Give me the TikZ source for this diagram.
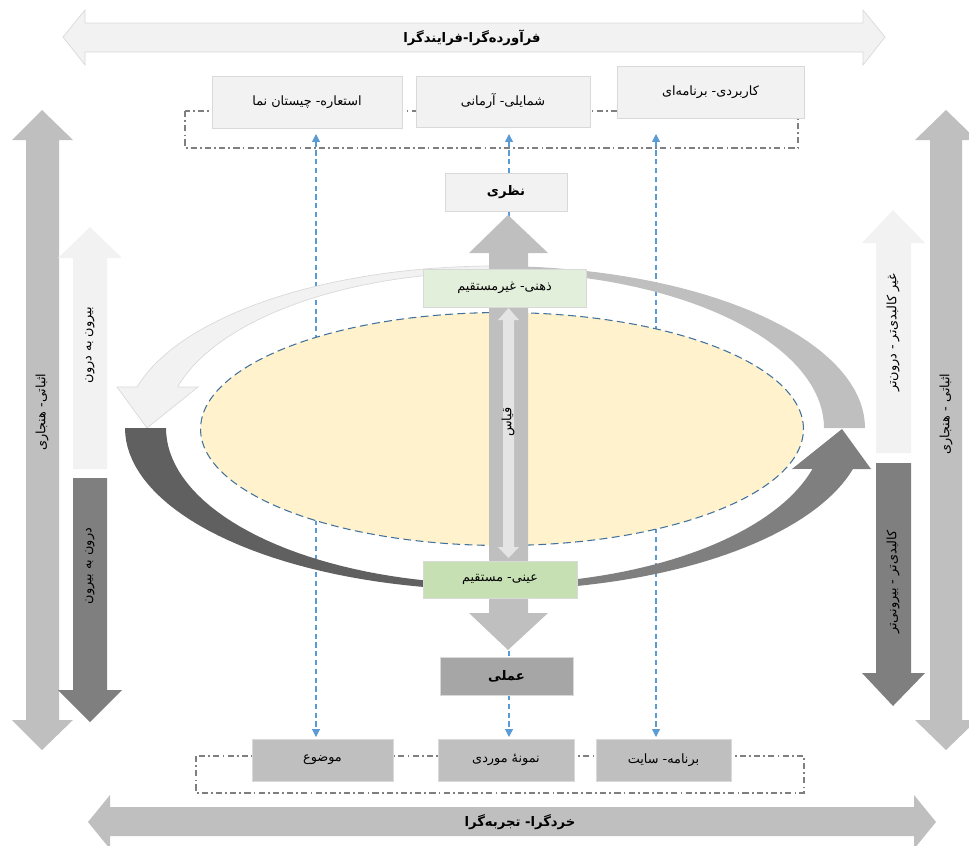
\documentclass[tikz,border=0pt]{standalone}
\usepackage{fontspec}
\newfontfamily\persianfont[Script=Arabic]{DejaVu Sans}
\TeXXeTstate=1
\newcommand{\rtltext}[1]{\beginR #1\endR}
\usetikzlibrary{shapes.geometric, arrows.meta}

\definecolor{paleg}{HTML}{F2F2F2}
\definecolor{edgeg}{HTML}{D9D9D9}
\definecolor{midg}{HTML}{BFBFBF}
\definecolor{darkg}{HTML}{A6A6A6}
\definecolor{deepg}{HTML}{7F7F7F}
\definecolor{coalg}{HTML}{606060}
\definecolor{palegreen}{HTML}{E2EFDA}
\definecolor{leafgreen}{HTML}{C6E0B4}
\definecolor{cream}{HTML}{FFF2CC}
\definecolor{steel}{HTML}{41719C}
\definecolor{sky}{HTML}{5B9BD5}

\tikzset{
  fa/.style={font=\persianfont\fontsize{7.3}{8.5}\selectfont, text=black},
  fabold/.style={font=\persianfont\bfseries\fontsize{7.5}{9}\selectfont, text=black},
  lightbox/.style={rectangle, draw=edgeg, line width=0.4pt, fill=paleg, inner sep=0pt, fa},
  greybox/.style={rectangle, draw=edgeg, line width=0.4pt, fill=midg, inner sep=0pt, fa},
  greenbox/.style={rectangle, draw=edgeg, line width=0.4pt, inner sep=0pt, fa},
  link/.style={sky, line width=0.6pt, dash pattern=on 3pt off 2pt, {Triangle[length=4.5pt,width=4.5pt]}-{Triangle[length=4.5pt,width=4.5pt]}},
  frame/.style={deepg, line width=0.6pt, dash pattern=on 3.5pt off 1.8pt on 1pt off 1.8pt}
}

\begin{document}
\begin{tikzpicture}[x=0.02cm, y=-0.02cm]
  \useasboundingbox (0,0) rectangle (969,845);

  % dashed links between top and bottom rows
  \coordinate (linkAtop) at (316,134);
  \coordinate (linkAbot) at (316,737);
  \coordinate (linkBtop) at (509,134);
  \coordinate (linkBbot) at (509,737);
  \coordinate (linkCtop) at (656,134);
  \coordinate (linkCbot) at (656,737);
  \draw [link] (linkAtop) -- (linkAbot);
  \draw [link] (linkBtop) -- (linkBbot);
  \draw [link] (linkCtop) -- (linkCbot);

  % dash-dot frames
  \draw [frame] (185,111) rectangle (798,148);
  \draw [frame] (196,756) rectangle (804,793);

  % horizontal axes
  \filldraw [fill=paleg, draw=edgeg, line width=0.4pt] (63,37) -- (85,10) -- (85,23) -- (863,23) -- (863,10) -- (885,37) -- (863,65) -- (863,52) -- (85,52) -- (85,65) -- cycle;
  \node (product) [fabold] at (472,38) {\rtltext{فرآورده‌گرا-فرایندگرا}};
  \fill [midg] (88,822) -- (110,795) -- (110,807) -- (914,807) -- (914,795) -- (936,822) -- (914,849) -- (914,836) -- (110,836) -- (110,849) -- cycle;
  \node (rational) [fabold] at (520,822) {\rtltext{خردگرا- تجربه‌گرا}};

  % vertical axes, left
  \fill [midg] (42,110) -- (73,140) -- (59,140) -- (59,720) -- (73,720) -- (42,750) -- (12,720) -- (26,720) -- (26,140) -- (12,140) -- cycle;
  \fill [paleg] (90,227) -- (122,258) -- (107,258) -- (107,469) -- (73,469) -- (73,258) -- (58,258) -- cycle;
  \fill [deepg] (73,478) -- (107,478) -- (107,690) -- (122,690) -- (90,722) -- (58,690) -- (73,690) -- cycle;
  \node (leftaxis) [fa, rotate=90] at (42,412) {\rtltext{اثباتی- هنجاری}};
  \node (outin) [fa, rotate=90] at (90,345) {\rtltext{بیرون به درون}};
  \node (inout) [fa, rotate=90] at (90,566) {\rtltext{درون به بیرون}};

  % vertical axes, right
  \fill [midg] (946,110) -- (977,140) -- (962,140) -- (962,720) -- (977,720) -- (946,750) -- (915,720) -- (930,720) -- (930,140) -- (915,140) -- cycle;
  \fill [paleg] (893,210) -- (925,243) -- (911,243) -- (911,453) -- (876,453) -- (876,243) -- (862,243) -- cycle;
  \fill [deepg] (876,463) -- (911,463) -- (911,673) -- (925,673) -- (893,706) -- (862,673) -- (876,673) -- cycle;
  \node (rightaxis) [fa, rotate=90] at (946,414) {\rtltext{اثباتی - هنجاری}};
  \node (inner) [fa, rotate=90] at (893,333) {\rtltext{غیر کالبدی‌تر - درون‌تر}};
  \node (outer) [fa, rotate=90] at (893,582) {\rtltext{کالبدی‌تر - بیرونی‌تر}};

  % cycle arrows round the core
  \fill [midg] plot[domain=0:-90, samples=40] ({495+370*cos(\x)},{428+162*sin(\x)})
    -- plot[domain=-90:0, samples=40] ({495+329*cos(\x)},{428+156*sin(\x)}) -- cycle;
  \filldraw [fill=paleg, draw=edgeg, line width=0.4pt] plot[domain=-90:-165.3, samples=40] ({495+370*cos(\x)},{428+162*sin(\x)})
    -- (117,387) -- (147,428) -- (198,387)
    -- plot[domain=-164.8:-90, samples=40] ({495+329*cos(\x)},{428+156*sin(\x)}) -- cycle;
  \fill [coalg] plot[domain=180:90, samples=40] ({495+370*cos(\x)},{428+162*sin(\x)})
    -- plot[domain=90:180, samples=40] ({495+329*cos(\x)},{428+156*sin(\x)}) -- cycle;
  \fill [deepg] plot[domain=90:14.7, samples=40] ({495+370*cos(\x)},{428+162*sin(\x)})
    -- (871,469) -- (842,429) -- (792,469)
    -- plot[domain=15.2:90, samples=40] ({495+329*cos(\x)},{428+156*sin(\x)}) -- cycle;

  % core
  \node (core) [ellipse, draw=steel, line width=0.6pt, dash pattern=on 4.5pt off 2.5pt, fill=cream, minimum width=12.06cm, minimum height=4.66cm, inner sep=0pt] at (502,429) {};

  % theory-practice shaft
  \fill [midg] (489,613) -- (469,613) -- (508,650) -- (548,613) -- (528,613) -- (528,253) -- (548,253) -- (508,215) -- (469,253) -- (489,253) -- cycle;
  \fill [edgeg!70!white] (508.5,308) -- (519,320) -- (514,320) -- (514,547) -- (519,547) -- (508.5,558) -- (498,547) -- (503,547) -- (503,320) -- (498,320) -- cycle;
  \node (analogy) [fa, rotate=90] at (508,422) {\rtltext{قیاس}};

  % top row
  \node (metaphor) [lightbox, minimum width=3.8cm, minimum height=1.04cm] at (307,102) {\rtltext{استعاره- چیستان نما}};
  \node (iconic) [lightbox, minimum width=3.48cm, minimum height=1.02cm] at (503,101.5) {\rtltext{شمایلی- آرمانی}};
  \node (applied) [lightbox, minimum width=3.74cm, minimum height=1.04cm] at (710.5,92) {\rtltext{کاربردی- برنامه‌ای}};

  % centre column
  \node (theory) [lightbox, font=\persianfont\bfseries\fontsize{7.5}{9}\selectfont, minimum width=2.44cm, minimum height=0.76cm] at (506,192) {\rtltext{نظری}};
  \node (mental) [greenbox, fill=palegreen, minimum width=3.26cm, minimum height=0.76cm] at (504.5,288) {\rtltext{ذهنی- غیرمستقیم}};
  \node (objective) [greenbox, fill=leafgreen, minimum width=3.08cm, minimum height=0.74cm] at (500,579.5) {\rtltext{عینی- مستقیم}};
  \node (practice) [greybox, fill=darkg, font=\persianfont\bfseries\fontsize{7.5}{9}\selectfont, minimum width=2.66cm, minimum height=0.76cm] at (506.5,676) {\rtltext{عملی}};

  % bottom row
  \node (subject) [greybox, minimum width=2.82cm, minimum height=0.84cm] at (322.5,760) {\rtltext{موضوع}};
  \node (casestudy) [greybox, minimum width=2.72cm, minimum height=0.84cm] at (506,760) {\rtltext{نمونهٔ موردی}};
  \node (site) [greybox, minimum width=2.7cm, minimum height=0.84cm] at (663.5,760) {\rtltext{برنامه- سایت}};
\end{tikzpicture}
\end{document}
